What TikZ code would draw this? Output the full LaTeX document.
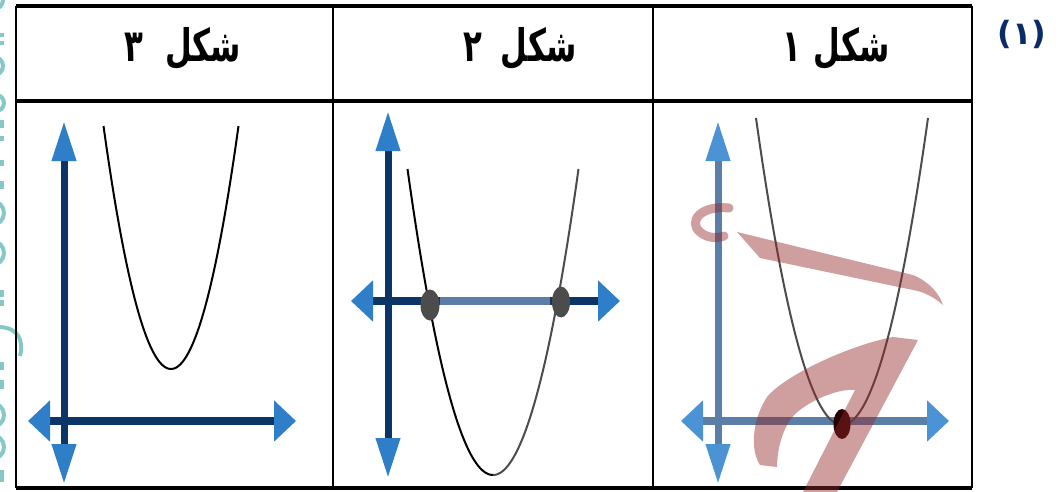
\documentclass[tikz,border=0pt]{standalone}
\usepackage{fontspec}
\TeXXeTstate=1
\newfontfamily\arabicfont[Script=Arabic]{DejaVu Sans}
\usetikzlibrary{arrows.meta,shapes.geometric}
\definecolor{navy}{HTML}{0A3566}
\definecolor{tipblue}{HTML}{2F7FC8}
\definecolor{steel}{HTML}{5A7EA6}
\definecolor{tiplight}{HTML}{4C93D6}
\definecolor{numblue}{HTML}{0A2A6A}
\definecolor{wmred}{HTML}{962828}
\definecolor{wmteal}{HTML}{86C8C8}
\tikzset{
  tblline/.style={draw=black, line width=2pt},
  tblthick/.style={draw=black, line width=3.5pt},
  hdr/.style={font=\arabicfont\bfseries\fontsize{40}{46}\selectfont, inner sep=0pt},
  vdark/.style={line width=7pt, draw=navy, {Triangle[length=40pt,width=23pt,color=tipblue]}-{Triangle[length=40pt,width=23pt,color=tipblue]}},
  hdark/.style={line width=8pt, draw=navy, {Triangle[length=22pt,width=40pt,color=tipblue]}-{Triangle[length=22pt,width=40pt,color=tipblue]}},
  vlight/.style={line width=7pt, draw=steel, {Triangle[length=40pt,width=23pt,color=tiplight]}-{Triangle[length=40pt,width=23pt,color=tiplight]}},
  hlight/.style={line width=8pt, draw=steel, {Triangle[length=22pt,width=40pt,color=tiplight]}-{Triangle[length=22pt,width=40pt,color=tiplight]}},
  curve/.style={line width=2pt, draw=black},
  curvegray/.style={line width=2pt, draw=black!70},
  rootdot/.style={fill=black!70, draw=none, shape=ellipse, inner sep=0pt},
  tealmark/.style={draw=wmteal, line width=4pt},
  wmark/.style={fill=wmred, fill opacity=0.45, draw=none},
}
\begin{document}
\begin{tikzpicture}[x=1pt,y=-1pt]
\useasboundingbox[fill=white] (0,0) rectangle (1062,492);
% faint watermark on the left edge
\draw[tealmark] (-6,66) circle[radius=9];
\draw[tealmark] (-6,0) circle[radius=9];
\draw[tealmark] (2,33) -- (2,37) (2,41) -- (2,45);
\draw[tealmark] (-4,103) circle[radius=8];
\draw[tealmark] (2,120) -- (2,128) (2,136) -- (2,141) (2,160) -- (2,166) (2,181) -- (2,189);
\draw[tealmark] (-8,213) circle[radius=12];
\draw[tealmark] (-8,253) circle[radius=12];
\draw[tealmark] (2,290) -- (2,297) (2,300) -- (2,306);
\draw[tealmark] (0,327) .. controls (18,328) and (24,340) .. (20,356);
\draw[tealmark] (2,362) -- (2,370) (2,380) -- (2,389);
\draw[tealmark] (-8,415) circle[radius=12];
\draw[tealmark] (-8,447) circle[radius=12];
\draw[tealmark] (2,470) -- (2,482);
% table
\coordinate (tl) at (16,6);
\coordinate (tr) at (972,6);
\coordinate (hl) at (16,101);
\coordinate (hr) at (972,101);
\coordinate (bl) at (16,488);
\coordinate (br) at (972,488);
\coordinate (c1t) at (333,6);
\coordinate (c1b) at (333,488);
\coordinate (c2t) at (653,6);
\coordinate (c2b) at (653,488);
\draw[tblthick] (tl) -- (tr);
\draw[tblthick] (hl) -- (hr);
\draw[tblthick] (bl) -- (br);
\draw[tblline] (tl) -- (bl);
\draw[tblline] (tr) -- (br);
\draw[tblline] (c1t) -- (c1b);
\draw[tblline] (c2t) -- (c2b);
% headers
\node[hdr] (h3) at (183,49) {\scalebox{0.77}[1.12]{\beginR شكل\hspace{28pt}٣\endR}};
\node[hdr] (h2) at (520,49) {\scalebox{0.77}[1.12]{\beginR شكل\hspace{24pt}٢\endR}};
\node[hdr] (h1) at (836,49) {\scalebox{0.77}[1.12]{\beginR شكل\hspace{16pt}١\endR}};
\node[font=\arabicfont\bfseries\fontsize{32}{36}\selectfont, text=numblue, inner sep=0pt] (num) at (1022,34) {(١)};
% ---------- panel 3 ----------
\coordinate (p3yt) at (64,121);
\coordinate (p3yb) at (64,484);
\coordinate (p3xl) at (28,421);
\coordinate (p3xr) at (296,421);
\draw[hdark] (p3xl) -- (p3xr);
\draw[vdark] (p3yb) -- (p3yt);
\draw[curve] plot[domain=-67.5:67.5, samples=80, smooth] ({171+\x},{369-243*(\x/67.5)^2});
% ---------- panel 2 ----------
\coordinate (p2yt) at (388,111);
\coordinate (p2yb) at (388,478);
\coordinate (p2xl) at (351,301);
\coordinate (p2xr) at (620,301);
\coordinate (p2ml) at (440,301);
\coordinate (p2mr) at (550,301);
\draw[vdark] (p2yb) -- (p2yt);
\draw[hdark] (p2xl) -- (p2xr);
\draw[line width=8pt, draw=steel] (p2ml) -- (p2mr);
\draw[curve] plot[domain=-85.5:0, samples=60, smooth] ({493+\x},{475-306*(\x/85.5)^2});
\draw[curvegray] plot[domain=0:85.5, samples=60, smooth] ({493+\x},{475-306*(\x/85.5)^2});
\node[rootdot, minimum width=19pt, minimum height=31pt] (r1) at (430,305) {};
\node[rootdot, minimum width=18pt, minimum height=31pt] (r2) at (561,302) {};
% ---------- panel 1 ----------
\coordinate (p1yt) at (718,121);
\coordinate (p1yb) at (718,484);
\coordinate (p1xl) at (681,421);
\coordinate (p1xr) at (949,421);
\draw[vlight] (p1yb) -- (p1yt);
\draw[hlight] (p1xl) -- (p1xr);
\draw[curvegray] plot[domain=-86:86, samples=80, smooth] ({842+\x},{425-307*(\x/86)^2});
\node[fill=black!85!red, minimum width=17pt, minimum height=30pt, inner sep=0pt, shape=ellipse] (v1) at (842,424) {};
% red watermark over panel 1
\draw[draw=wmred, draw opacity=0.45, line width=9pt, line cap=round] (729,208) .. controls (700,205) and (688,222) .. (700,232) .. controls (708,239) and (718,238) .. (724,236);
\fill[wmark] (737,232) -- (913,275) .. controls (930,282) and (940,295) .. (943,305) .. controls (935,298) and (925,292) .. (913,290) -- (760,258) -- cycle;
\fill[wmark] (918,340) -- (837,492) -- (803,492) -- (855,390) .. controls (835,388) and (800,405) .. (790,420) .. controls (780,435) and (777,455) .. (777,467) -- (760,465) .. controls (750,450) and (752,420) .. (767,397) .. controls (785,375) and (850,345) .. (893,337) -- cycle;
\end{tikzpicture}
\end{document}
